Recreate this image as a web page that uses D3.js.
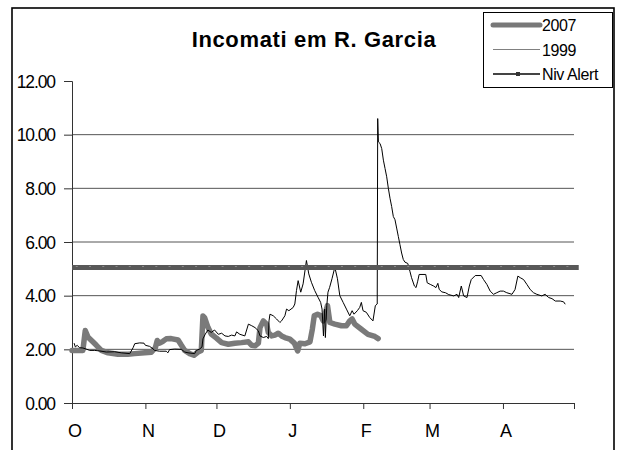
<!DOCTYPE html>
<html><head><meta charset="utf-8">
<script src="https://cdn.jsdelivr.net/npm/d3@7"></script>
<style>html,body{margin:0;padding:0;background:#fff;} svg{display:block;font-family:"Liberation Sans",Arial,sans-serif;}</style>
</head><body><svg id="c" width="617" height="450"></svg>
<script>
const chartTitle = "Incomati em R. Garcia";
const monthLabels = ["O","N","D","J","F","M","A"];
const monthStartDays = [0,31,61,92,123,151,182,212];
const yTicks = [0,2,4,6,8,10,12];
const gridValues = [2,4,6,8,10];
const seriesNames = ["2007","1999","Niv Alert"];

const days2007 = [0,4.6,5.6,6.8,8.9,10.3,12.4,15.2,19.4,23.6,26.5,30.7,33.5,35.2,36,37,38.4,39.8,41.9,44.8,46.2,47.6,49.7,51.5,53.2,54.6,55.3,56,57.4,58.8,61,63.2,66,68.8,71.6,74.5,75.9,77.3,78.7,79.4,80.8,82.2,82.9,84.3,85.7,87.1,88.5,89.9,92,93.9,95.3,96.2,98.4,100.5,101.5,102.3,103.7,105.1,106.1,107.1,107.9,108.9,111,113.8,115.9,117.3,118.3,119.4,122.2,125,127.9,129.3];
const level2007 = [1.96,1.96,2.70,2.45,2.27,2.15,1.96,1.87,1.82,1.82,1.84,1.87,1.89,2.06,2.33,2.23,2.30,2.39,2.40,2.35,2.15,1.96,1.84,1.78,1.90,1.96,3.24,3.18,2.82,2.57,2.42,2.25,2.19,2.23,2.25,2.28,2.15,2.13,2.23,2.81,3.06,2.94,2.63,2.50,2.53,2.60,2.50,2.44,2.38,2.23,1.94,2.23,2.21,2.28,2.75,3.25,3.31,3.25,3.06,3.38,3.63,3.00,2.94,2.88,2.88,3.06,3.13,2.94,2.75,2.56,2.48,2.40];

const days1999 = [0.9,1.4,2.2,3.2,4.6,6,7.5,9.6,11.7,14.5,18,20.8,24.4,25.8,26.5,28.6,30.4,31,32.8,34.2,34.9,37,39.8,40.5,41.2,43.4,46.2,47.6,49,51.8,52.5,53.9,54.9,55.3,56.3,57.4,58.8,60.2,61.8,63.2,64.6,66,67.4,68.8,69.5,70.9,73,74.5,75.9,77.3,78.7,79.4,80.8,82.2,82.9,83.2,83.6,85,86.4,87.8,88.5,89.9,90.6,91.6,93.4,94.1,94.8,95.5,96.6,97.6,99,100,101.1,102.5,103.9,105,105.6,106.2,106.7,107,107.6,108.1,108.8,109.8,111,112.1,113.1,114.5,115.9,117.3,118.3,119.1,120.5,121.5,122.2,122.9,124.3,125.7,127.1,128.1,128.9,129.1,129.4,130.1,130.8,131.5,132.2,132.9,133.6,134.3,135,135.7,136.4,137.1,137.8,138.5,139.2,139.9,140.6,141.8,142.7,143.4,144.6,145.3,146,146.6,149.4,150,151.3,152.7,153.7,154.5,155.1,156.2,157.7,159.1,161.2,162.6,163.3,164.4,165.4,166.8,167.8,168.6,170.3,172.8,173.8,175.2,176.6,178,179.4,180.8,182.2,183.6,185.8,187.1,188.3,189.3,190.7,192.1,193.5,194.9,196.3,198.4,199.8,201.3,202.7,204.1,206.2,207.6,208.3];
const level1999 = [2.23,2.09,2.15,2.06,2.05,2.01,1.96,1.96,1.94,1.90,1.91,1.87,1.84,2.06,2.21,2.24,2.23,2.15,2.11,2.02,1.96,1.93,1.93,1.87,1.99,2.01,2.00,1.90,1.87,1.84,1.96,2.01,2.09,2.39,2.57,2.72,2.63,2.72,2.56,2.60,2.50,2.48,2.53,2.50,2.65,2.56,2.50,2.94,2.88,2.81,2.69,2.50,2.44,2.48,2.40,3.06,3.31,3.25,3.13,3.00,3.06,3.25,3.50,3.44,3.56,3.69,4.19,4.56,4.13,4.44,5.31,4.81,4.50,4.19,3.94,3.75,3.50,2.50,3.50,2.44,3.63,4.13,4.31,4.63,5.06,4.63,4.00,3.75,3.50,3.25,3.44,3.31,3.44,3.56,3.75,3.44,3.38,3.19,3.06,3.63,3.69,10.60,9.73,9.67,9.48,9.05,8.74,8.43,8.00,7.63,7.32,6.95,6.83,6.52,6.21,5.90,5.59,5.35,5.25,5.20,4.91,4.67,4.36,4.30,4.54,4.79,4.79,4.48,4.42,4.36,4.30,4.46,4.23,4.14,4.11,4.04,3.99,4.05,3.93,4.36,3.99,3.93,4.36,4.60,4.75,4.75,4.60,4.42,4.17,4.05,4.11,4.17,4.17,4.11,4.05,4.23,4.73,4.67,4.60,4.42,4.23,4.11,4.05,3.99,4.05,3.93,3.89,3.80,3.80,3.77,3.68];

const alertLevel = 5.05;
const alertDays = [0, 214];

const svg = d3.select("#c");
const x = d3.scaleLinear().domain([0, 212]).range([72, 574]);
const y = d3.scaleLinear().domain([0, 12]).range([403, 81]);

// outer frame
svg.append("rect").attr("x", 12).attr("y", 8).attr("width", 602).attr("height", 470)
  .attr("fill", "#fff").attr("stroke", "#000").attr("stroke-width", 1.6);

// title
svg.append("text").attr("x", 314).attr("y", 47).attr("text-anchor", "middle")
  .attr("font-size", 22).attr("font-weight", "bold").attr("letter-spacing", 0.65)
  .text(chartTitle);

// gridlines
svg.append("g").selectAll("line").data(gridValues).join("line")
  .attr("x1", x(0)).attr("x2", x(212))
  .attr("y1", d => y(d)).attr("y2", d => y(d))
  .attr("stroke", "#555").attr("stroke-width", 1);

// y axis
const yAxis = d3.axisLeft(y).tickValues(yTicks).tickFormat(d3.format(".2f")).tickSizeOuter(0).tickSize(8).tickPadding(9);
const gy = svg.append("g").attr("transform", `translate(${x(0)},0)`).call(yAxis);
gy.attr("font-size", null).attr("font-family", null);
gy.select(".domain").attr("stroke", "#333");
gy.selectAll(".tick line").attr("stroke", "#333");
gy.selectAll(".tick text").style("font-size", "17.5px").style("font-family", "'Liberation Sans', Arial, sans-serif")
  .attr("fill", "#000").attr("letter-spacing", -1.1).attr("dy", "0.36em");

// x axis
const xAxis = d3.axisBottom(x).tickValues(monthStartDays).tickFormat("").tickSizeOuter(0).tickSize(6);
const gx = svg.append("g").attr("transform", `translate(0,${y(0)})`).call(xAxis);
gx.select(".domain").attr("stroke", "#333");
gx.selectAll(".tick line").attr("stroke", "#333");
svg.append("g").selectAll("text").data(monthLabels).join("text")
  .attr("x", (d, i) => x(monthStartDays[i]) + 3).attr("y", 437)
  .attr("text-anchor", "middle").style("font-size", "18px").text(d => d);

// series
const line = d3.line().x(d => x(d[0])).y(d => y(d[1]));
svg.append("path").datum(days2007.map((d, i) => [d, level2007[i]]))
  .attr("d", line).attr("fill", "none").attr("stroke", "#7a7a7a")
  .attr("stroke-width", 5.5).attr("stroke-linejoin", "round").attr("stroke-linecap", "round");
svg.append("path").datum(days1999.map((d, i) => [d, level1999[i]]))
  .attr("d", line).attr("fill", "none").attr("stroke", "#000").attr("stroke-width", 1);
svg.append("path").datum(alertDays.map(d => [d, alertLevel]))
  .attr("d", line).attr("fill", "none").attr("stroke", "#585858").attr("stroke-width", 5);
svg.append("g").selectAll("rect").data(d3.range(2, 214, 5.6)).join("rect")
  .attr("x", d => x(d) - 1).attr("y", y(alertLevel) - 1.5).attr("width", 2).attr("height", 1)
  .attr("fill", "#8a8a8a");

// legend
const lg = svg.append("g");
lg.append("rect").attr("x", 483.5).attr("y", 12.5).attr("width", 129).attr("height", 75)
  .attr("fill", "#fff").attr("stroke", "#000").attr("stroke-width", 1);
const legendRows = [
  {name: seriesNames[0], yy: 25, color: "#787878", w: 5},
  {name: seriesNames[1], yy: 49.5, color: "#808080", w: 1.2},
  {name: seriesNames[2], yy: 74, color: "#444", w: 2}
];
legendRows.forEach((r, i) => {
  lg.append("line").attr("x1", 493).attr("x2", 540).attr("y1", r.yy).attr("y2", r.yy)
    .attr("stroke", r.color).attr("stroke-width", r.w).attr("stroke-linecap", i === 0 ? "round" : "butt");
  if (i === 2) lg.append("rect").attr("x", 516).attr("y", r.yy - 2).attr("width", 4).attr("height", 4).attr("fill", "#333");
  lg.append("text").attr("x", 542).attr("y", r.yy + 6).style("font-size", "16px")
    .attr("letter-spacing", -0.4).text(r.name);
});
</script></body></html>
